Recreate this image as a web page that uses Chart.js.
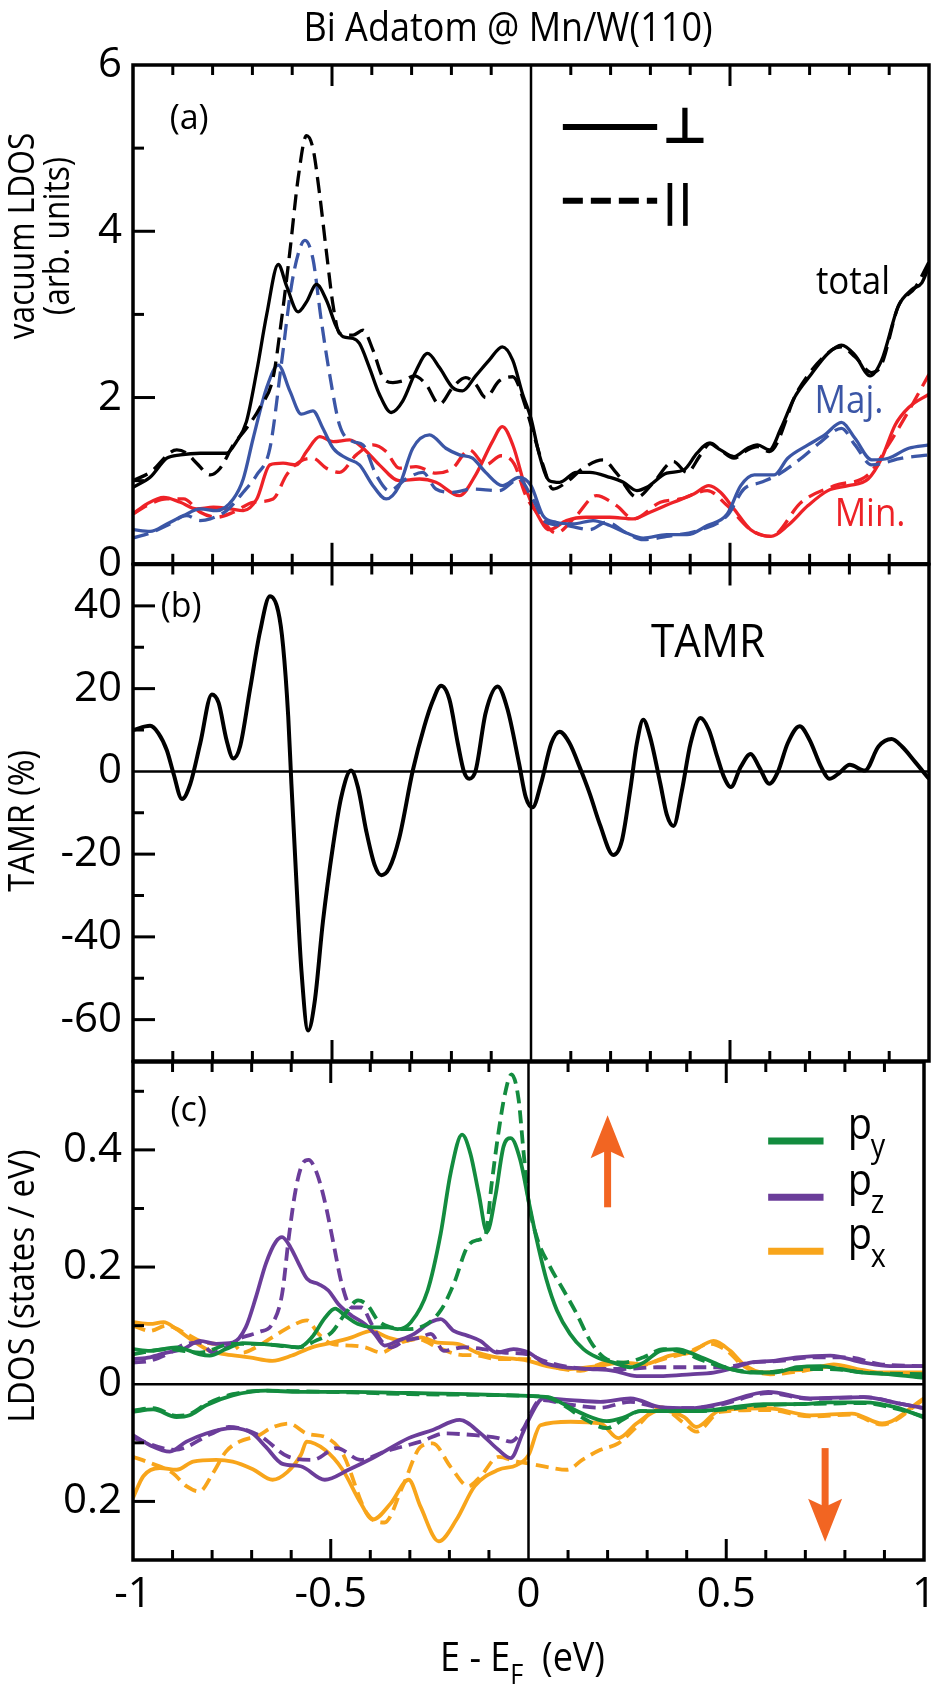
<!DOCTYPE html>
<html>
<head>
<meta charset="utf-8">
<script src="https://cdn.jsdelivr.net/npm/chart.js@4.4.1/dist/chart.umd.min.js"></script>
<style>
  html, body { margin: 0; padding: 0; background: #fff; }
  body { width: 946px; height: 1688px; position: relative; overflow: hidden; }
  canvas { position: absolute; left: 0; display: block; }
</style>
</head>
<body>
<canvas id="chartA" width="946" height="600" style="top:0px"></canvas>
<canvas id="chartB" width="946" height="580" style="top:520px"></canvas>
<canvas id="chartC" width="946" height="668" style="top:1020px"></canvas>
<script>
// ---------- panel (a): vacuum LDOS, perpendicular (solid) / parallel (dashed) ----------
const totPerpE = [-1, -0.957, -0.915, -0.881, -0.831, -0.765, -0.740, -0.715, -0.689, -0.664, -0.635, -0.614, -0.585, -0.564, -0.539, -0.514, -0.489, -0.472, -0.447, -0.431, -0.406, -0.381, -0.351, -0.322, -0.289, -0.260, -0.230, -0.197, -0.172, -0.139, -0.105, -0.072, -0.046, -0.021, 0, 0.021, 0.046, 0.072, 0.114, 0.148, 0.198, 0.232, 0.266, 0.291, 0.341, 0.384, 0.417, 0.447, 0.476, 0.510, 0.544, 0.569, 0.599, 0.628, 0.662, 0.704, 0.746, 0.780, 0.814, 0.852, 0.881, 0.923, 0.957, 0.982, 1.0];
const totPerp = [0.92, 1.04, 1.27, 1.31, 1.33, 1.33, 1.47, 1.71, 2.32, 3.0, 3.6, 3.34, 3.03, 3.15, 3.36, 3.17, 2.85, 2.73, 2.71, 2.65, 2.36, 2.04, 1.82, 1.96, 2.32, 2.53, 2.36, 2.12, 2.08, 2.26, 2.45, 2.61, 2.45, 2.04, 1.75, 1.31, 1.0, 0.98, 1.1, 1.1, 1.04, 0.98, 0.88, 0.92, 1.09, 1.13, 1.33, 1.45, 1.37, 1.29, 1.39, 1.43, 1.37, 1.63, 2.0, 2.28, 2.53, 2.63, 2.51, 2.26, 2.45, 3.1, 3.3, 3.38, 3.58];

const totParE = [-1, -0.957, -0.890, -0.865, -0.840, -0.806, -0.781, -0.748, -0.715, -0.681, -0.648, -0.627, -0.606, -0.585, -0.564, -0.548, -0.531, -0.514, -0.497, -0.481, -0.447, -0.422, -0.397, -0.372, -0.347, -0.322, -0.293, -0.264, -0.230, -0.197, -0.164, -0.139, -0.114, -0.080, -0.046, -0.013, 0, 0.030, 0.055, 0.089, 0.131, 0.181, 0.215, 0.266, 0.308, 0.358, 0.392, 0.426, 0.451, 0.476, 0.510, 0.544, 0.569, 0.599, 0.670, 0.755, 0.780, 0.814, 0.856, 0.881, 0.923, 0.965, 1.0];
const totPar = [1.0, 1.1, 1.37, 1.33, 1.21, 1.07, 1.15, 1.43, 1.63, 1.88, 2.24, 2.93, 3.75, 4.64, 5.15, 5.0, 4.44, 3.75, 3.1, 2.77, 2.75, 2.81, 2.57, 2.24, 2.18, 2.2, 2.26, 2.16, 1.92, 2.12, 2.24, 2.16, 2.0, 2.2, 2.25, 1.88, 1.67, 1.19, 0.9, 0.98, 1.15, 1.25, 1.09, 0.8, 0.98, 1.23, 1.1, 1.31, 1.45, 1.37, 1.27, 1.37, 1.41, 1.35, 2.08, 2.57, 2.61, 2.49, 2.3, 2.4, 3.1, 3.32, 3.63];

const majPerpE = [-1, -0.957, -0.915, -0.873, -0.831, -0.790, -0.748, -0.723, -0.698, -0.664, -0.635, -0.606, -0.577, -0.548, -0.523, -0.497, -0.464, -0.431, -0.397, -0.364, -0.331, -0.297, -0.255, -0.214, -0.180, -0.147, -0.114, -0.072, -0.030, 0, 0.030, 0.063, 0.105, 0.156, 0.198, 0.240, 0.282, 0.341, 0.392, 0.443, 0.493, 0.527, 0.561, 0.611, 0.645, 0.696, 0.738, 0.780, 0.814, 0.856, 0.898, 0.949, 1.0];
const majPerp = [0.41, 0.39, 0.48, 0.58, 0.66, 0.64, 0.78, 1.02, 1.51, 2.12, 2.39, 2.08, 1.8, 1.84, 1.63, 1.39, 1.27, 1.19, 0.94, 0.78, 0.94, 1.39, 1.55, 1.39, 1.31, 1.27, 1.1, 0.94, 1.04, 0.94, 0.58, 0.5, 0.48, 0.52, 0.46, 0.37, 0.31, 0.35, 0.35, 0.46, 0.6, 0.94, 1.07, 1.07, 1.27, 1.43, 1.55, 1.7, 1.51, 1.25, 1.27, 1.39, 1.43];

const majParE = [-1, -0.957, -0.915, -0.865, -0.831, -0.806, -0.765, -0.723, -0.689, -0.656, -0.627, -0.602, -0.581, -0.568, -0.548, -0.527, -0.506, -0.481, -0.447, -0.422, -0.389, -0.356, -0.314, -0.272, -0.239, -0.197, -0.147, -0.080, -0.030, 0.004, 0.038, 0.089, 0.148, 0.190, 0.240, 0.282, 0.341, 0.426, 0.493, 0.535, 0.578, 0.620, 0.679, 0.729, 0.780, 0.814, 0.856, 0.932, 1.0];
const majPar = [0.31, 0.37, 0.46, 0.58, 0.52, 0.54, 0.64, 0.86, 1.07, 1.39, 2.41, 3.34, 3.79, 3.89, 3.67, 2.93, 2.28, 1.67, 1.47, 1.43, 1.07, 0.88, 1.02, 1.1, 0.9, 0.86, 0.9, 0.88, 1.02, 0.78, 0.5, 0.46, 0.41, 0.5, 0.37, 0.29, 0.33, 0.41, 0.58, 0.9, 0.98, 1.07, 1.27, 1.47, 1.63, 1.43, 1.19, 1.27, 1.31];

const minPerpE = [-1, -0.965, -0.923, -0.881, -0.840, -0.798, -0.756, -0.723, -0.689, -0.656, -0.623, -0.589, -0.564, -0.531, -0.497, -0.456, -0.422, -0.381, -0.331, -0.280, -0.239, -0.180, -0.139, -0.097, -0.072, -0.045, -0.013, 0.013, 0.046, 0.089, 0.139, 0.198, 0.257, 0.299, 0.358, 0.409, 0.447, 0.476, 0.510, 0.552, 0.603, 0.645, 0.696, 0.746, 0.797, 0.847, 0.881, 0.915, 0.949, 1.0];
const minPerp = [0.6, 0.72, 0.8, 0.74, 0.66, 0.68, 0.66, 0.64, 0.78, 1.19, 1.21, 1.19, 1.35, 1.53, 1.47, 1.49, 1.39, 1.19, 1.0, 1.02, 0.98, 0.82, 1.07, 1.47, 1.65, 1.42, 0.9, 0.62, 0.41, 0.52, 0.56, 0.56, 0.54, 0.62, 0.74, 0.84, 0.94, 0.86, 0.66, 0.41, 0.33, 0.46, 0.7, 0.88, 0.94, 1.02, 1.27, 1.67, 1.88, 2.04];

const minParE = [-1, -0.965, -0.915, -0.873, -0.831, -0.790, -0.748, -0.698, -0.648, -0.614, -0.581, -0.548, -0.514, -0.481, -0.439, -0.397, -0.364, -0.331, -0.289, -0.239, -0.197, -0.155, -0.114, -0.075, -0.042, -0.013, 0.021, 0.063, 0.114, 0.164, 0.215, 0.257, 0.325, 0.375, 0.443, 0.493, 0.552, 0.603, 0.679, 0.763, 0.847, 0.898, 0.949, 1.0];
const minPar = [0.6, 0.7, 0.78, 0.78, 0.62, 0.56, 0.62, 0.74, 0.78, 1.07, 1.23, 1.27, 1.15, 1.1, 1.31, 1.43, 1.35, 1.15, 1.17, 1.09, 1.15, 1.37, 1.19, 1.3, 1.2, 0.82, 0.58, 0.37, 0.58, 0.82, 0.7, 0.54, 0.74, 0.78, 0.88, 0.7, 0.41, 0.33, 0.74, 0.94, 1.07, 1.43, 1.84, 2.28];

// ---------- panel (b): TAMR (%) ----------
const tamrE = [-1, -0.957, -0.936, -0.915, -0.898, -0.877, -0.856, -0.831, -0.802, -0.785, -0.765, -0.748, -0.731, -0.706, -0.681, -0.656, -0.635, -0.623, -0.610, -0.602, -0.589, -0.577, -0.560, -0.543, -0.523, -0.497, -0.477, -0.452, -0.435, -0.414, -0.393, -0.376, -0.356, -0.331, -0.297, -0.268, -0.247, -0.226, -0.205, -0.184, -0.168, -0.155, -0.139, -0.114, -0.084, -0.059, -0.030, -0.013, 0.004, 0.025, 0.051, 0.072, 0.097, 0.122, 0.148, 0.173, 0.207, 0.228, 0.249, 0.266, 0.282, 0.299, 0.325, 0.341, 0.358, 0.379, 0.401, 0.426, 0.447, 0.468, 0.485, 0.502, 0.527, 0.552, 0.573, 0.599, 0.620, 0.645, 0.675, 0.700, 0.729, 0.750, 0.772, 0.801, 0.839, 0.873, 0.906, 0.932, 0.965, 1.0];
const tamr = [10.0, 11.0, 9.2, 5.1, -0.6, -6.7, -3.0, 6.8, 18.6, 16.6, 7.6, 3.1, 6.0, 19.8, 33.7, 42.3, 38.6, 30.4, 13.3, -3.0, -27.5, -47.9, -62.6, -55.3, -36.5, -17.7, -6.3, 0.2, -3.8, -14.4, -22.6, -25.1, -23.4, -16.1, 0.2, 10.9, 17.0, 20.7, 17.4, 6.8, -0.2, -1.8, 0.2, 14.1, 20.5, 15.0, 1.9, -6.3, -8.7, -3.0, 6.8, 9.6, 6.8, 1.1, -5.5, -12.8, -20.2, -16.9, -4.7, 6.8, 12.5, 8.4, -3.0, -10.4, -13.2, -4.7, 6.8, 12.9, 10.0, 3.5, -1.4, -3.8, 1.1, 4.2, 1.1, -3.0, -0.2, 6.8, 10.9, 7.6, 1.1, -1.8, -0.6, 1.6, 0.2, 6.0, 7.8, 6.0, 2.3, -1.8];

// ---------- panel (c): Bi p-orbital LDOS, spin up (>0) and spin down (<0) ----------
const pyUpE = [-1, -0.957, -0.890, -0.831, -0.806, -0.765, -0.723, -0.681, -0.623, -0.581, -0.548, -0.514, -0.489, -0.464, -0.431, -0.389, -0.356, -0.331, -0.297, -0.255, -0.222, -0.197, -0.168, -0.147, -0.126, -0.105, -0.084, -0.063, -0.045, -0.021, 0, 0.021, 0.046, 0.072, 0.105, 0.139, 0.173, 0.215, 0.257, 0.291, 0.333, 0.375, 0.426, 0.468, 0.510, 0.561, 0.620, 0.679, 0.738, 0.788, 0.847, 0.915, 1.0];
const pyUp = [0.060, 0.057, 0.063, 0.051, 0.049, 0.060, 0.070, 0.069, 0.066, 0.063, 0.080, 0.114, 0.129, 0.117, 0.103, 0.097, 0.097, 0.094, 0.106, 0.16, 0.257, 0.36, 0.426, 0.394, 0.326, 0.26, 0.32, 0.406, 0.42, 0.383, 0.314, 0.246, 0.177, 0.126, 0.086, 0.06, 0.046, 0.037, 0.029, 0.037, 0.057, 0.06, 0.049, 0.037, 0.026, 0.02, 0.02, 0.029, 0.031, 0.026, 0.02, 0.017, 0.011];
const pyUpParE = [-1, -0.915, -0.831, -0.748, -0.681, -0.581, -0.539, -0.497, -0.464, -0.431, -0.406, -0.381, -0.347, -0.314, -0.264, -0.222, -0.189, -0.155, -0.130, -0.109, -0.093, -0.076, -0.059, -0.043, -0.025, -0.013, 0, 0.021, 0.055, 0.089, 0.122, 0.156, 0.190, 0.240, 0.291, 0.341, 0.392, 0.443, 0.510, 0.594, 0.679, 0.763, 0.847, 1.0];
const pyUpPar = [0.051, 0.06, 0.054, 0.069, 0.069, 0.063, 0.074, 0.089, 0.12, 0.143, 0.134, 0.109, 0.097, 0.094, 0.1, 0.126, 0.171, 0.234, 0.246, 0.254, 0.343, 0.429, 0.497, 0.529, 0.486, 0.4, 0.314, 0.251, 0.2, 0.16, 0.12, 0.074, 0.046, 0.037, 0.046, 0.06, 0.054, 0.04, 0.026, 0.02, 0.026, 0.026, 0.02, 0.017];

const pzUpE = [-1, -0.957, -0.915, -0.873, -0.831, -0.790, -0.748, -0.715, -0.689, -0.664, -0.639, -0.623, -0.602, -0.581, -0.560, -0.531, -0.506, -0.481, -0.447, -0.414, -0.389, -0.364, -0.331, -0.289, -0.247, -0.222, -0.189, -0.155, -0.122, -0.080, -0.038, 0, 0.038, 0.089, 0.156, 0.215, 0.274, 0.341, 0.409, 0.468, 0.510, 0.561, 0.620, 0.679, 0.763, 0.847, 0.915, 1.0];
const pzUp = [0.043, 0.046, 0.054, 0.06, 0.074, 0.069, 0.071, 0.097, 0.149, 0.206, 0.243, 0.251, 0.234, 0.206, 0.18, 0.171, 0.16, 0.137, 0.117, 0.103, 0.086, 0.066, 0.074, 0.086, 0.106, 0.111, 0.091, 0.083, 0.074, 0.054, 0.06, 0.054, 0.037, 0.029, 0.026, 0.023, 0.014, 0.014, 0.017, 0.02, 0.026, 0.037, 0.04, 0.046, 0.049, 0.037, 0.031, 0.031];
const pzUpParE = [-1, -0.957, -0.915, -0.865, -0.831, -0.798, -0.765, -0.723, -0.681, -0.648, -0.623, -0.606, -0.589, -0.573, -0.556, -0.535, -0.514, -0.493, -0.472, -0.447, -0.422, -0.397, -0.372, -0.347, -0.314, -0.272, -0.247, -0.214, -0.164, -0.114, -0.063, 0, 0.038, 0.089, 0.156, 0.240, 0.325, 0.409, 0.493, 0.561, 0.637, 0.720, 0.805, 0.890, 1.0];
const pzUpPar = [0.037, 0.04, 0.051, 0.069, 0.071, 0.054, 0.063, 0.08, 0.089, 0.103, 0.154, 0.251, 0.331, 0.374, 0.383, 0.36, 0.309, 0.24, 0.171, 0.131, 0.131, 0.103, 0.074, 0.063, 0.074, 0.08, 0.086, 0.057, 0.063, 0.06, 0.054, 0.051, 0.04, 0.031, 0.026, 0.026, 0.029, 0.029, 0.029, 0.037, 0.04, 0.046, 0.046, 0.034, 0.031];

const pxUpE = [-1, -0.957, -0.923, -0.890, -0.848, -0.806, -0.765, -0.706, -0.648, -0.598, -0.548, -0.497, -0.447, -0.397, -0.356, -0.314, -0.272, -0.230, -0.180, -0.130, -0.080, -0.030, 0, 0.046, 0.105, 0.173, 0.240, 0.291, 0.358, 0.409, 0.468, 0.510, 0.544, 0.594, 0.653, 0.712, 0.772, 0.831, 0.890, 1.0];
const pxUp = [0.106, 0.103, 0.106, 0.094, 0.074, 0.057, 0.051, 0.046, 0.04, 0.049, 0.063, 0.071, 0.08, 0.091, 0.08, 0.074, 0.08, 0.071, 0.069, 0.054, 0.046, 0.043, 0.04, 0.031, 0.026, 0.031, 0.037, 0.034, 0.049, 0.054, 0.074, 0.057, 0.034, 0.02, 0.023, 0.026, 0.034, 0.026, 0.02, 0.02];
const pxUpParE = [-1, -0.957, -0.915, -0.865, -0.831, -0.790, -0.748, -0.723, -0.689, -0.648, -0.598, -0.560, -0.531, -0.497, -0.447, -0.414, -0.372, -0.331, -0.280, -0.230, -0.180, -0.130, -0.080, 0, 0.063, 0.131, 0.198, 0.274, 0.341, 0.401, 0.460, 0.502, 0.544, 0.611, 0.696, 0.780, 0.864, 1.0];
const pxUpPar = [0.1, 0.091, 0.1, 0.086, 0.074, 0.069, 0.069, 0.054, 0.063, 0.08, 0.1, 0.109, 0.086, 0.069, 0.066, 0.063, 0.054, 0.069, 0.077, 0.063, 0.051, 0.049, 0.043, 0.043, 0.029, 0.023, 0.037, 0.031, 0.043, 0.054, 0.069, 0.057, 0.031, 0.017, 0.023, 0.031, 0.02, 0.017];

const pyDnE = [-1, -0.949, -0.890, -0.857, -0.815, -0.748, -0.664, -0.580, -0.45, -0.3, -0.15, 0, 0.05, 0.089, 0.139, 0.198, 0.240, 0.282, 0.341, 0.426, 0.510, 0.594, 0.679, 0.763, 0.847, 0.932, 1.0];
const pyDn = [-0.047, -0.043, -0.056, -0.053, -0.036, -0.019, -0.011, -0.013, -0.013, -0.015, -0.017, -0.02, -0.022, -0.034, -0.051, -0.063, -0.057, -0.046, -0.046, -0.046, -0.04, -0.034, -0.034, -0.031, -0.031, -0.04, -0.057];
const pyDnPar = [-0.045, -0.041, -0.054, -0.051, -0.034, -0.017, -0.011, -0.012, -0.014, -0.017, -0.018, -0.02, -0.023, -0.036, -0.058, -0.075, -0.06, -0.046, -0.046, -0.046, -0.042, -0.036, -0.034, -0.033, -0.032, -0.042, -0.055];

const pzDnE = [-1, -0.957, -0.907, -0.865, -0.815, -0.748, -0.698, -0.664, -0.622, -0.576, -0.515, -0.455, -0.394, -0.303, -0.242, -0.174, -0.121, -0.076, -0.045, -0.015, 0, 0.038, 0.106, 0.182, 0.258, 0.333, 0.409, 0.485, 0.606, 0.712, 0.848, 0.939, 1.0];
const pzDn = [-0.087, -0.104, -0.115, -0.098, -0.084, -0.075, -0.084, -0.107, -0.136, -0.14, -0.163, -0.146, -0.126, -0.092, -0.078, -0.061, -0.084, -0.112, -0.126, -0.084, -0.061, -0.024, -0.027, -0.03, -0.024, -0.039, -0.041, -0.033, -0.013, -0.024, -0.022, -0.033, -0.041];
const pzDnParE = [-1, -0.894, -0.803, -0.758, -0.682, -0.606, -0.545, -0.485, -0.424, -0.364, -0.273, -0.212, -0.136, -0.076, -0.045, -0.015, 0.030, 0.106, 0.182, 0.258, 0.333, 0.409, 0.485, 0.606, 0.712, 0.848, 0.939, 1.0];
const pzDnPar = [-0.092, -0.112, -0.085, -0.073, -0.087, -0.124, -0.129, -0.109, -0.129, -0.115, -0.098, -0.084, -0.087, -0.092, -0.098, -0.078, -0.027, -0.035, -0.04, -0.03, -0.04, -0.041, -0.035, -0.015, -0.025, -0.022, -0.033, -0.041];

const pxDnE = [-1, -0.974, -0.932, -0.890, -0.848, -0.790, -0.748, -0.697, -0.647, -0.610, -0.575, -0.561, -0.515, -0.470, -0.424, -0.394, -0.348, -0.303, -0.273, -0.227, -0.182, -0.136, -0.076, -0.030, 0, 0.030, 0.106, 0.182, 0.227, 0.273, 0.333, 0.394, 0.424, 0.485, 0.606, 0.712, 0.818, 0.894, 1.0];
const pxDn = [-0.194, -0.157, -0.143, -0.146, -0.132, -0.129, -0.132, -0.145, -0.163, -0.15, -0.12, -0.098, -0.112, -0.146, -0.203, -0.231, -0.203, -0.163, -0.209, -0.268, -0.231, -0.174, -0.146, -0.138, -0.121, -0.07, -0.064, -0.067, -0.092, -0.067, -0.044, -0.056, -0.073, -0.044, -0.041, -0.053, -0.05, -0.067, -0.024];
const pxDnParE = [-1, -0.966, -0.899, -0.865, -0.832, -0.798, -0.765, -0.731, -0.681, -0.652, -0.606, -0.561, -0.508, -0.470, -0.409, -0.364, -0.318, -0.273, -0.242, -0.197, -0.152, -0.121, -0.076, -0.030, 0, 0.045, 0.098, 0.136, 0.182, 0.227, 0.273, 0.333, 0.394, 0.424, 0.485, 0.606, 0.712, 0.818, 0.894, 1.0];
const pxDnPar = [-0.124, -0.132, -0.152, -0.174, -0.183, -0.152, -0.115, -0.098, -0.087, -0.075, -0.067, -0.084, -0.092, -0.118, -0.22, -0.236, -0.174, -0.107, -0.101, -0.141, -0.174, -0.157, -0.124, -0.132, -0.135, -0.141, -0.146, -0.129, -0.112, -0.101, -0.073, -0.039, -0.067, -0.081, -0.047, -0.044, -0.055, -0.052, -0.069, -0.026];

// ---------- tick labels and tick marks ----------
const xTickLabels = [-1, -0.5, 0, 0.5, 1];
const xMajor = [-0.5, 0.5];
const xMinor = [-0.9, -0.8, -0.7, -0.6, -0.4, -0.3, -0.2, -0.1, 0.1, 0.2, 0.3, 0.4, 0.6, 0.7, 0.8, 0.9];
const yTicksA = [0, 2, 4, 6];
const yTicksB = [-60, -40, -20, 0, 20, 40];
const yTicksC = [-0.2, 0, 0.2, 0.4];

// ---------- styling ----------
const FONT = "'Open Sans', 'DejaVu Sans', sans-serif";
const BLACK = '#000000', BLUE = '#3b56a6', RED = '#ee2227';
const GREEN = '#138c3f', PURPLE = '#6b3d9a', ORANGE = '#f8a51b', ARROW = '#f26522';

Chart.defaults.font.family = FONT;
Chart.defaults.color = '#000';

function series(xs, ys, color, dash, width) {
  return {
    data: xs.map((x, i) => ({ x, y: ys[i] })),
    borderColor: color,
    borderWidth: width,
    borderDash: dash,
    pointRadius: 0,
    fill: false,
    cubicInterpolationMode: 'monotone'
  };
}

function seg(ctx, x1, y1, x2, y2) {
  ctx.beginPath();
  ctx.moveTo(x1, y1);
  ctx.lineTo(x2, y2);
  ctx.stroke();
}

// text helper; squeeze narrows the glyphs a little (the original uses a condensed face)
function label(ctx, str, x, y, size, opts = {}) {
  ctx.save();
  ctx.font = `${opts.weight || 'normal'} ${size}px ${opts.family || FONT}`;
  ctx.fillStyle = opts.color || '#000';
  ctx.textAlign = opts.align || 'center';
  ctx.textBaseline = opts.baseline || 'middle';
  ctx.translate(x, y);
  if (opts.rotate) ctx.rotate(-Math.PI / 2);
  if (opts.squeeze) ctx.scale(opts.squeeze, 1);
  ctx.fillText(str, 0, 0);
  ctx.restore();
}

// frame, inward tick marks and zero lines, drawn over the curves
const framePlugin = {
  id: 'frame',
  afterDatasetsDraw(chart, args, o) {
    const { ctx, chartArea: a, scales: { x, y } } = chart;
    ctx.save();
    ctx.strokeStyle = '#000';
    ctx.lineWidth = 2.5;
    const x0 = x.getPixelForValue(0);
    seg(ctx, x0, a.top, x0, a.bottom);
    if (o.zeroY) {
      const y0 = y.getPixelForValue(0);
      seg(ctx, a.left, y0, a.right, y0);
    }
    ctx.lineWidth = 3;
    xMinor.forEach(v => {
      const px = x.getPixelForValue(v);
      seg(ctx, px, a.top, px, a.top + 10);
      seg(ctx, px, a.bottom, px, a.bottom - 10);
    });
    xMajor.forEach(v => {
      const px = x.getPixelForValue(v);
      seg(ctx, px, a.top, px, a.top + 21);
      seg(ctx, px, a.bottom, px, a.bottom - 21);
    });
    o.yMinor.forEach(v => {
      const py = y.getPixelForValue(v);
      seg(ctx, a.left, py, a.left + 11, py);
    });
    o.yMajor.forEach(v => {
      const py = y.getPixelForValue(v);
      seg(ctx, a.left, py, a.left + 22, py);
    });
    ctx.lineWidth = 3.5;
    ctx.strokeRect(a.left, a.top, a.right - a.left, a.bottom - a.top);
    ctx.restore();
  }
};

function panelOptions(p) {
  const xAxis = {
    type: 'linear', min: -1, max: 1,
    display: p.showX,
    grid: { display: false, drawTicks: false },
    border: { display: false },
    afterBuildTicks: ax => { ax.ticks = xTickLabels.map(v => ({ value: v })); },
    ticks: { padding: 10, maxRotation: 0, autoSkip: false, font: { size: 42 }, color: '#000', callback: v => String(v) }
  };
  if (p.showX) xAxis.afterFit = ax => { ax.height = 128; };
  return {
    responsive: false,
    animation: false,
    events: [],
    layout: { padding: p.padding },
    plugins: { legend: { display: false }, tooltip: { enabled: false }, frame: p.frame },
    scales: {
      x: xAxis,
      y: {
        type: 'linear', min: p.yMin, max: p.yMax,
        grid: { display: false, drawTicks: false },
        border: { display: false },
        afterBuildTicks: ax => { ax.ticks = p.yTicks.map(v => ({ value: v })); },
        afterFit: ax => { ax.width = 133; },
        ticks: { padding: 11, autoSkip: false, font: { size: 42 }, color: '#000', callback: p.yFmt }
      }
    }
  };
}

// ---------- panel (a) ----------
const DASH_A = [16, 8];
new Chart(document.getElementById('chartA'), {
  type: 'line',
  data: {
    datasets: [
      series(totPerpE, totPerp, BLACK, [], 3.3),
      series(totParE, totPar, BLACK, DASH_A, 3.3),
      series(majPerpE, majPerp, BLUE, [], 3.3),
      series(majParE, majPar, BLUE, DASH_A, 3.3),
      series(minPerpE, minPerp, RED, [], 3.3),
      series(minParE, minPar, RED, DASH_A, 3.3)
    ]
  },
  options: panelOptions({
    padding: { top: 65, bottom: 35.5, left: 0, right: 17 },
    showX: false, yMin: 0, yMax: 6, yTicks: yTicksA, yFmt: v => String(v),
    frame: { zeroY: false, yMajor: [2, 4], yMinor: [1, 3, 5] }
  }),
  plugins: [framePlugin, {
    id: 'notesA',
    afterDraw(chart) {
      const { ctx, scales: { x, y } } = chart;
      label(ctx, 'Bi Adatom @ Mn/W(110)', 508, 30, 40, { squeeze: 0.9 });
      label(ctx, 'vacuum LDOS', 24, 236, 36, { rotate: true, squeeze: 0.88 });
      label(ctx, '(arb. units)', 59, 236, 36, { rotate: true, squeeze: 0.88 });
      label(ctx, '(a)', x.getPixelForValue(-0.859), y.getPixelForValue(5.35), 34);
      label(ctx, 'total', x.getPixelForValue(0.809), y.getPixelForValue(3.37), 38, { squeeze: 0.92 });
      label(ctx, 'Maj.', x.getPixelForValue(0.799), y.getPixelForValue(1.94), 38, { color: BLUE, squeeze: 0.92 });
      label(ctx, 'Min.', x.getPixelForValue(0.852), y.getPixelForValue(0.58), 38, { color: RED, squeeze: 0.92 });
      // line-style key
      ctx.save();
      ctx.strokeStyle = BLACK;
      ctx.lineWidth = 6;
      const lx1 = x.getPixelForValue(0.08), lx2 = x.getPixelForValue(0.317);
      const ly1 = y.getPixelForValue(5.255), ly2 = y.getPixelForValue(4.366);
      seg(ctx, lx1, ly1, lx2, ly1);
      ctx.setLineDash([20, 8]);
      seg(ctx, lx1, ly2, lx2, ly2);
      ctx.restore();
      label(ctx, '\u22A5', x.getPixelForValue(0.33), ly1 + 16, 50, { align: 'left', baseline: 'alphabetic', family: "'DejaVu Sans'", weight: 'bold' });
      label(ctx, '||', x.getPixelForValue(0.33), ly2 + 15, 42, { align: 'left', baseline: 'alphabetic', family: "'DejaVu Sans'", weight: 'bold' });
    }
  }]
});

// ---------- panel (b) ----------
new Chart(document.getElementById('chartB'), {
  type: 'line',
  data: { datasets: [series(tamrE, tamr, BLACK, [], 4)] },
  options: panelOptions({
    padding: { top: 44.5, bottom: 39, left: 0, right: 17 },
    showX: false, yMin: -70, yMax: 50, yTicks: yTicksB, yFmt: v => String(v),
    frame: { zeroY: true, yMajor: [-60, -40, -20, 20, 40], yMinor: [-50, -30, -10, 10, 30] }
  }),
  plugins: [framePlugin, {
    id: 'notesB',
    afterDraw(chart) {
      const { ctx, chartArea: a, scales: { x, y } } = chart;
      label(ctx, 'TAMR (%)', 24, (a.top + a.bottom) / 2 + 8, 36, { rotate: true, squeeze: 0.9 });
      label(ctx, '(b)', x.getPixelForValue(-0.879), y.getPixelForValue(39.7), 34);
      label(ctx, 'TAMR', x.getPixelForValue(0.445), y.getPixelForValue(30.8), 46, { squeeze: 0.92 });
    }
  }]
});

// ---------- panel (c) ----------
const DASH_C = [13, 7];
function drawArrow(ctx, px, yTail, yTip) {
  const dir = Math.sign(yTip - yTail);
  ctx.save();
  ctx.strokeStyle = ARROW;
  ctx.fillStyle = ARROW;
  ctx.lineWidth = 7;
  seg(ctx, px, yTail, px, yTip - dir * 30);
  ctx.beginPath();
  ctx.moveTo(px, yTip);
  ctx.lineTo(px - 17, yTip - dir * 43);
  ctx.lineTo(px, yTip - dir * 35);
  ctx.lineTo(px + 17, yTip - dir * 43);
  ctx.closePath();
  ctx.fill();
  ctx.restore();
}

new Chart(document.getElementById('chartC'), {
  type: 'line',
  data: {
    datasets: [
      series(pyUpE, pyUp, GREEN, [], 3.8),
      series(pyUpParE, pyUpPar, GREEN, DASH_C, 3.8),
      series(pzUpE, pzUp, PURPLE, [], 3.8),
      series(pzUpParE, pzUpPar, PURPLE, DASH_C, 3.8),
      series(pxUpE, pxUp, ORANGE, [], 3.8),
      series(pxUpParE, pxUpPar, ORANGE, DASH_C, 3.8),
      series(pyDnE, pyDn, GREEN, [], 3.8),
      series(pyDnE, pyDnPar, GREEN, DASH_C, 3.8),
      series(pzDnE, pzDn, PURPLE, [], 3.8),
      series(pzDnParE, pzDnPar, PURPLE, DASH_C, 3.8),
      series(pxDnE, pxDn, ORANGE, [], 3.8),
      series(pxDnParE, pxDnPar, ORANGE, DASH_C, 3.8)
    ]
  },
  options: panelOptions({
    padding: { top: 42, bottom: 0, left: 0, right: 17 },
    showX: true, yMin: -0.3, yMax: 0.55, yTicks: yTicksC, yFmt: v => String(Math.abs(v)),
    frame: { zeroY: true, yMajor: [-0.2, 0.2, 0.4], yMinor: [-0.1, 0.1, 0.3, 0.5] }
  }),
  plugins: [framePlugin, {
    id: 'notesC',
    afterDraw(chart) {
      const { ctx, chartArea: a, scales: { x, y } } = chart;
      label(ctx, 'LDOS (states / eV)', 24, 266, 36, { rotate: true, squeeze: 0.92 });
      label(ctx, '(c)', x.getPixelForValue(-0.859), y.getPixelForValue(0.465), 34);
      // spin arrows
      drawArrow(ctx, x.getPixelForValue(0.2), y.getPixelForValue(0.302), y.getPixelForValue(0.459));
      drawArrow(ctx, x.getPixelForValue(0.75), y.getPixelForValue(-0.109), y.getPixelForValue(-0.269));
      // orbital key
      const keys = [['y', GREEN, 0.415], ['z', PURPLE, 0.319], ['x', ORANGE, 0.227]];
      const kx1 = x.getPixelForValue(0.606), kx2 = x.getPixelForValue(0.746), tx = x.getPixelForValue(0.807);
      keys.forEach(([sub, color, v]) => {
        const py = y.getPixelForValue(v);
        ctx.save();
        ctx.strokeStyle = color;
        ctx.lineWidth = 7;
        seg(ctx, kx1, py, kx2, py);
        ctx.restore();
        label(ctx, 'p', tx, py - 2, 44, { align: 'left', baseline: 'alphabetic', squeeze: 0.9 });
        label(ctx, sub, tx + 23, py + 16, 32, { align: 'left', baseline: 'alphabetic', squeeze: 0.9 });
      });
      // x axis title with subscript
      ctx.save();
      ctx.font = `40px ${FONT}`;
      const w1 = ctx.measureText('E - E').width * 0.9;
      const w2 = ctx.measureText('  (eV)').width * 0.9;
      ctx.font = `28px ${FONT}`;
      const ws = ctx.measureText('F').width * 0.9;
      ctx.restore();
      const start = x.getPixelForValue(0) - 6 - (w1 + ws + w2) / 2;
      const base = a.bottom + 111;
      label(ctx, 'E - E', start, base, 40, { align: 'left', baseline: 'alphabetic', squeeze: 0.9 });
      label(ctx, 'F', start + w1, base + 13, 28, { align: 'left', baseline: 'alphabetic', squeeze: 0.9 });
      label(ctx, '  (eV)', start + w1 + ws, base, 40, { align: 'left', baseline: 'alphabetic', squeeze: 0.9 });
    }
  }]
});
</script>
</body>
</html>
